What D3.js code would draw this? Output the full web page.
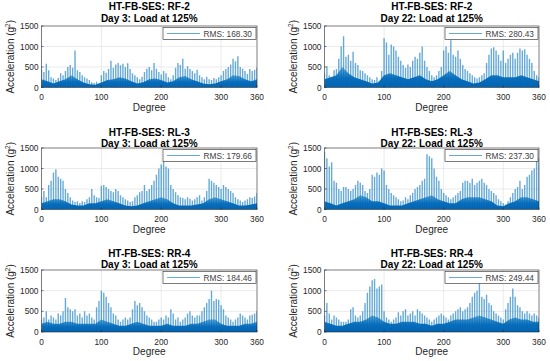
<!DOCTYPE html>
<html>
<head>
<meta charset="utf-8">
<script src="https://cdn.jsdelivr.net/npm/d3@7"></script>
<style>
  body { margin: 0; background: #fff; }
  svg { display: block; font-family: "Liberation Sans", Arial, sans-serif; }
</style>
</head>
<body>
<svg id="chart" width="550" height="361"></svg>
<script>
// spike peaks, one every 4 degrees (0..360)
const peaksRF2d3 = [450,380,580,420,250,220,180,230,350,300,400,500,550,480,900,420,380,300,250,220,180,130,110,140,100,300,400,360,450,650,480,560,600,540,580,500,590,450,350,300,250,200,260,380,460,500,420,600,460,380,320,400,350,250,200,300,480,600,550,700,460,520,450,400,350,430,300,250,200,260,200,180,230,200,250,300,400,450,500,560,700,640,760,500,460,400,330,450,400,430,480];
const peaksRF2d22 = [350,520,300,250,420,450,700,1000,1250,750,800,650,870,600,550,420,400,350,300,250,200,180,250,150,400,1200,1100,800,1050,1000,900,750,650,550,480,560,500,650,750,700,850,1000,650,500,400,300,250,300,400,500,900,1000,850,1150,800,750,900,700,550,450,400,350,300,250,220,250,300,350,600,800,950,980,900,800,650,900,600,700,800,850,700,850,950,900,930,800,700,600,400,300,250];
const peaksRL3d3 = [300,450,300,600,700,900,980,800,750,700,500,400,300,220,180,200,160,200,180,250,300,500,350,300,280,580,600,550,500,450,420,500,450,350,300,250,220,180,200,300,350,420,450,600,450,500,600,700,850,1000,1100,1200,1050,1000,600,500,420,350,300,280,250,300,260,220,250,300,350,220,300,450,750,700,650,600,550,500,600,550,500,450,400,300,250,220,180,220,250,300,280,320,400];
const peaksRL3d22 = [1400,1250,1050,1150,700,650,500,450,550,550,500,450,500,600,700,650,600,450,400,500,850,800,900,850,1000,950,600,500,400,350,300,250,200,220,300,250,350,400,500,550,600,700,750,1350,1300,1250,1000,800,700,500,400,350,300,250,300,350,400,450,650,700,700,650,750,600,650,700,750,650,600,500,450,400,350,250,200,150,120,200,300,400,500,550,700,500,600,800,850,950,1000,1200,1250];
const peaksRR4d3 = [300,350,500,300,400,350,300,450,400,500,820,600,550,500,550,400,450,350,500,400,450,350,300,600,750,1000,950,850,700,600,450,400,300,250,300,350,300,350,550,750,650,700,600,500,400,350,300,250,250,300,350,300,400,350,550,450,300,350,250,300,350,450,500,400,350,400,400,500,600,700,800,1000,750,800,780,650,550,400,350,300,250,300,350,450,400,350,300,400,420,450,500];
const peaksRR4d22 = [400,700,450,300,400,350,300,250,250,250,300,550,600,400,350,400,500,700,950,1100,1250,1280,1050,1100,1150,500,350,300,250,300,350,480,400,500,550,400,450,500,400,550,500,450,400,350,300,250,300,350,400,450,400,350,300,400,450,500,550,600,500,550,600,700,850,950,1000,1180,850,800,900,700,650,500,450,400,350,300,550,700,850,1050,850,650,600,500,450,500,450,400,450,400,350];

// level of the dense dark band, one every 10 degrees (0..360)
const bandRF2d3 = [200,150,100,150,200,300,200,120,80,70,120,180,200,250,220,150,100,130,200,220,180,120,150,250,280,200,150,100,80,100,150,200,300,280,200,150,200];
const bandRF2d22 = [200,250,300,500,350,250,200,150,100,120,300,350,300,250,200,250,300,200,150,200,300,400,300,200,150,100,120,200,300,300,250,250,250,300,250,200,150];
const bandRL3d3 = [150,200,250,250,200,120,100,100,150,150,200,250,200,150,100,80,100,150,200,250,300,250,150,100,100,100,120,150,250,300,250,200,150,100,100,120,150];
const bandRL3d22 = [200,150,100,150,200,250,350,300,200,200,150,100,100,100,150,200,250,300,350,250,200,150,150,250,300,300,300,250,200,100,80,150,200,300,300,250,200];
const bandRR4d3 = [200,250,200,200,250,250,200,200,200,200,300,250,200,150,150,200,250,200,150,150,150,200,150,150,150,200,200,250,300,300,200,150,150,150,200,200,250];
const bandRR4d22 = [250,200,150,150,200,250,250,300,400,350,250,200,200,250,250,250,200,200,150,200,200,250,300,300,300,350,400,350,300,250,200,300,350,300,300,250,250];

const titles = [
  ["HT-FB-SES: RF-2", "Day 3: Load at 125%"],
  ["HT-FB-SES: RF-2", "Day 22: Load at 125%"],
  ["HT-FB-SES: RL-3", "Day 3: Load at 125%"],
  ["HT-FB-SES: RL-3", "Day 22: Load at 125%"],
  ["HT-FB-SES: RR-4", "Day 3: Load at 125%"],
  ["HT-FB-SES: RR-4", "Day 22: Load at 125%"]
];
const rmsLabels = ["RMS: 168.30", "RMS: 280.43", "RMS: 179.66", "RMS: 237.30", "RMS: 184.46", "RMS: 249.44"];
const xTicks = [0, 100, 200, 300, 360];
const yTicks = [0, 500, 1000, 1500];

const peakSets = [peaksRF2d3, peaksRF2d22, peaksRL3d3, peaksRL3d22, peaksRR4d3, peaksRR4d22];
const bandSets = [bandRF2d3, bandRF2d22, bandRL3d3, bandRL3d22, bandRR4d3, bandRR4d22];

const blue = "#0072BD";
const svg = d3.select("#chart");

// dark band fades towards its top edge
const grad = svg.append("defs").append("linearGradient")
  .attr("id", "bandFill").attr("x1", 0).attr("y1", 1).attr("x2", 0).attr("y2", 0);
grad.append("stop").attr("offset", "0%").attr("stop-color", "#0064b4").attr("stop-opacity", 1);
grad.append("stop").attr("offset", "45%").attr("stop-color", "#0068b8").attr("stop-opacity", 0.95);
grad.append("stop").attr("offset", "100%").attr("stop-color", blue).attr("stop-opacity", 0.55);

// panel layout (pixels)
const cols = [{x: 41.5, w: 215.5}, {x: 324.5, w: 214.5}];
const rows = [{y: 26, h: 61.5, t: [6, 18.5]}, {y: 148, h: 61.5, t: [132, 143.5]}, {y: 270, h: 62, t: [253, 264]}];

peakSets.forEach((peaks, i) => {
  const col = cols[i % 2], row = rows[Math.floor(i / 2)];
  const x = d3.scaleLinear().domain([0, 360]).range([col.x, col.x + col.w]);
  const y = d3.scaleLinear().domain([0, 1500]).range([row.y + row.h, row.y]);

  const g = svg.append("g");
  const clipId = "clip" + i;
  svg.append("clipPath").attr("id", clipId)
    .append("rect").attr("x", col.x).attr("y", row.y).attr("width", col.w).attr("height", row.h);

  // grid
  g.selectAll(".gx").data(xTicks.slice(1, -1)).join("line")
    .attr("x1", d => x(d)).attr("x2", d => x(d))
    .attr("y1", row.y).attr("y2", row.y + row.h)
    .attr("stroke", "#dedede").attr("stroke-width", 0.6);
  g.selectAll(".gy").data(yTicks.slice(1, -1)).join("line")
    .attr("x1", col.x).attr("x2", col.x + col.w)
    .attr("y1", d => y(d)).attr("y2", d => y(d))
    .attr("stroke", "#dedede").attr("stroke-width", 0.6);

  const plot = g.append("g").attr("clip-path", `url(#${clipId})`);

  // spikes
  const peakDeg = peaks.map((v, k) => k * 4);
  plot.selectAll("line.spike").data(peaks).join("line")
    .attr("class", "spike")
    .attr("x1", (d, k) => x(peakDeg[k])).attr("x2", (d, k) => x(peakDeg[k]))
    .attr("y1", y(0)).attr("y2", d => y(d))
    .attr("stroke", blue).attr("stroke-width", 1.4).attr("stroke-opacity", 0.6);

  // dense band
  const band = bandSets[i];
  const area = d3.area()
    .x((d, k) => x(k * 10))
    .y0(y(0)).y1(d => y(d));
  plot.append("path").datum(band)
    .attr("d", area)
    .attr("fill", "url(#bandFill)");

  // box
  g.append("rect")
    .attr("x", col.x).attr("y", row.y).attr("width", col.w).attr("height", row.h)
    .attr("fill", "none").attr("stroke", "#262626").attr("stroke-width", 0.6);

  // ticks (inward)
  g.selectAll(".tx").data(xTicks).join("line")
    .attr("x1", d => x(d)).attr("x2", d => x(d))
    .attr("y1", row.y + row.h).attr("y2", row.y + row.h - 2)
    .attr("stroke", "#262626").attr("stroke-width", 0.6);
  g.selectAll(".ty").data(yTicks).join("line")
    .attr("x1", col.x).attr("x2", col.x + 2)
    .attr("y1", d => y(d)).attr("y2", d => y(d))
    .attr("stroke", "#262626").attr("stroke-width", 0.6);

  // tick labels
  g.selectAll(".lx").data(xTicks).join("text")
    .attr("x", d => x(d)).attr("y", row.y + row.h + 12.5)
    .attr("text-anchor", "middle").attr("font-size", 8.3).attr("fill", "#262626")
    .text(d => d);
  g.selectAll(".ly").data(yTicks).join("text")
    .attr("x", col.x - 3).attr("y", d => y(d) + 3)
    .attr("text-anchor", "end").attr("font-size", 8.3).attr("fill", "#262626")
    .text(d => d);

  // axis labels
  g.append("text")
    .attr("x", col.x + col.w / 2).attr("y", row.y + row.h + 23)
    .attr("text-anchor", "middle").attr("font-size", 10).attr("fill", "#262626")
    .text("Degree");
  const yl = g.append("text")
    .attr("transform", `translate(${col.x - 28},${row.y + row.h / 2}) rotate(-90)`)
    .attr("text-anchor", "middle").attr("font-size", 10).attr("fill", "#262626");
  yl.append("tspan").text("Acceleration  (g");
  yl.append("tspan").attr("font-size", 6.5).attr("dy", -4).text("2");
  yl.append("tspan").attr("dy", 4).text(")");

  // titles
  titles[i].forEach((t, k) => {
    g.append("text")
      .attr("x", col.x + col.w / 2).attr("y", row.t[k] + 3.6)
      .attr("text-anchor", "middle").attr("font-size", 10).attr("font-weight", "bold")
      .attr("fill", "#000").text(t);
  });

  // legend
  const lx = col.x + col.w - 94, ly = row.y + 1.5;
  g.append("rect").attr("x", lx).attr("y", ly).attr("width", 93).attr("height", 12)
    .attr("fill", "#fff").attr("stroke", "#262626").attr("stroke-width", 0.6);
  g.append("line").attr("x1", lx + 4).attr("x2", lx + 37)
    .attr("y1", ly + 6).attr("y2", ly + 6)
    .attr("stroke", blue).attr("stroke-opacity", 0.6).attr("stroke-width", 1.2);
  g.append("text").attr("x", lx + 40.5).attr("y", ly + 9)
    .attr("font-size", 8.3).attr("fill", "#404040").text(rmsLabels[i]);
});
</script>
</body>
</html>
